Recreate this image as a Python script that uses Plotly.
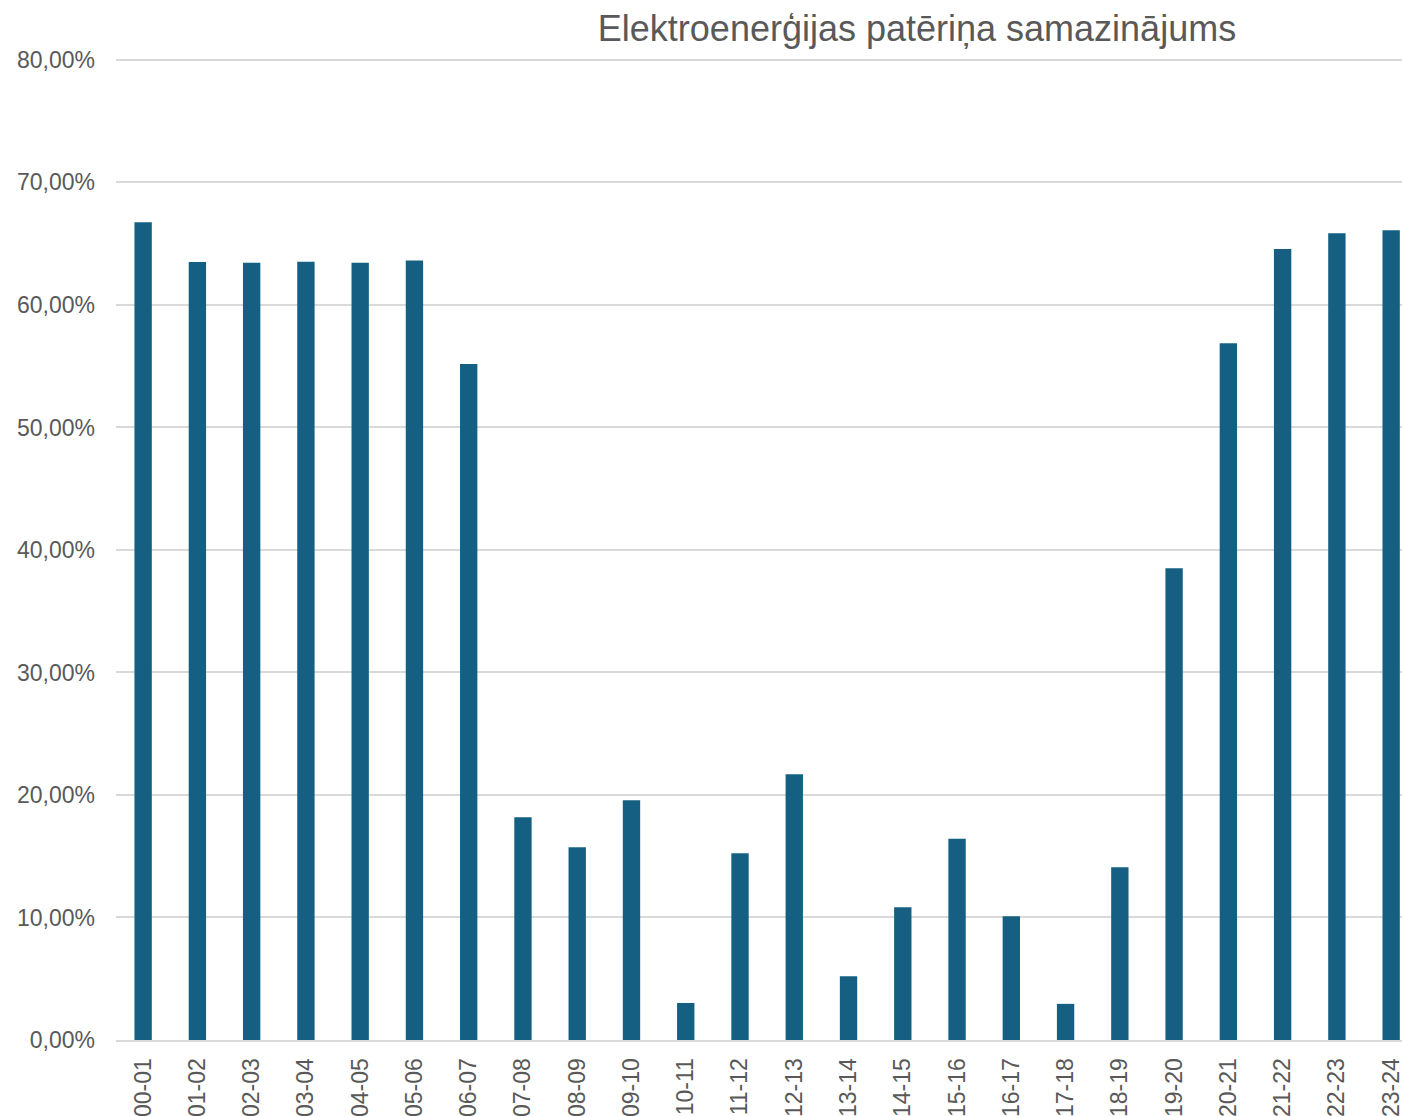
import plotly.graph_objects as go

categories = ["00-01", "01-02", "02-03", "03-04", "04-05", "05-06", "06-07", "07-08",
              "08-09", "09-10", "10-11", "11-12", "12-13", "13-14", "14-15", "15-16",
              "16-17", "17-18", "18-19", "19-20", "20-21", "21-22", "22-23", "23-24"]
values_pct = [66.75, 63.51, 63.45, 63.53, 63.45, 63.62, 55.18, 18.18,
              15.73, 19.57, 3.02, 15.24, 21.69, 5.20, 10.83, 16.43,
              10.10, 2.95, 14.10, 38.50, 56.87, 64.57, 65.85, 66.10]
values = [v / 100 for v in values_pct]
y_ticks = [0, 0.1, 0.2, 0.3, 0.4, 0.5, 0.6, 0.7, 0.8]

title_text = "Elektroenerģijas patēriņa samazinājums"
bar_color = "#156082"
text_color = "#595959"
grid_color = "#D9D9D9"
font_family = "Liberation Sans, Arial, sans-serif"

fig = go.Figure(
    go.Bar(
        x=list(range(len(categories))),
        y=values,
        width=0.32,
        marker=dict(color=bar_color, line=dict(width=0)),
    )
)

W, H = 1402, 1116
fig.update_layout(
    width=W,
    height=H,
    margin=dict(l=116, r=0, t=55, b=76),
    paper_bgcolor="white",
    plot_bgcolor="white",
    separators=", ",
    showlegend=False,
    font=dict(family=font_family, color=text_color, size=23),
    title=dict(
        text=title_text,
        x=917 / W,
        xref="container",
        xanchor="center",
        y=1 - 28 / H,
        yref="container",
        yanchor="middle",
        font=dict(family=font_family, size=36, color=text_color),
    ),
)
fig.update_xaxes(
    tickmode="array",
    tickvals=list(range(len(categories))),
    ticktext=categories,
    range=[-0.5, 23.2],
    tickangle=-90,
    showgrid=False,
    showline=True,
    linecolor=grid_color,
    linewidth=2,
    ticks="",
    ticklabelstandoff=7,
    ticklabeloverflow="allow",
    automargin=False,
    tickfont=dict(size=23, color=text_color),
)
fig.update_yaxes(
    range=[0, 0.804],
    tickmode="array",
    tickvals=y_ticks,
    tickformat=".2%",
    showgrid=True,
    gridcolor=grid_color,
    gridwidth=2,
    zeroline=False,
    showline=False,
    ticks="",
    ticklabelstandoff=20,
    automargin=False,
    tickfont=dict(size=23, color=text_color),
)

fig.write_html(
    "out.html",
    config={"displayModeBar": False},
    post_script="document.body.style.margin='0';document.body.style.overflow='hidden';",
)
